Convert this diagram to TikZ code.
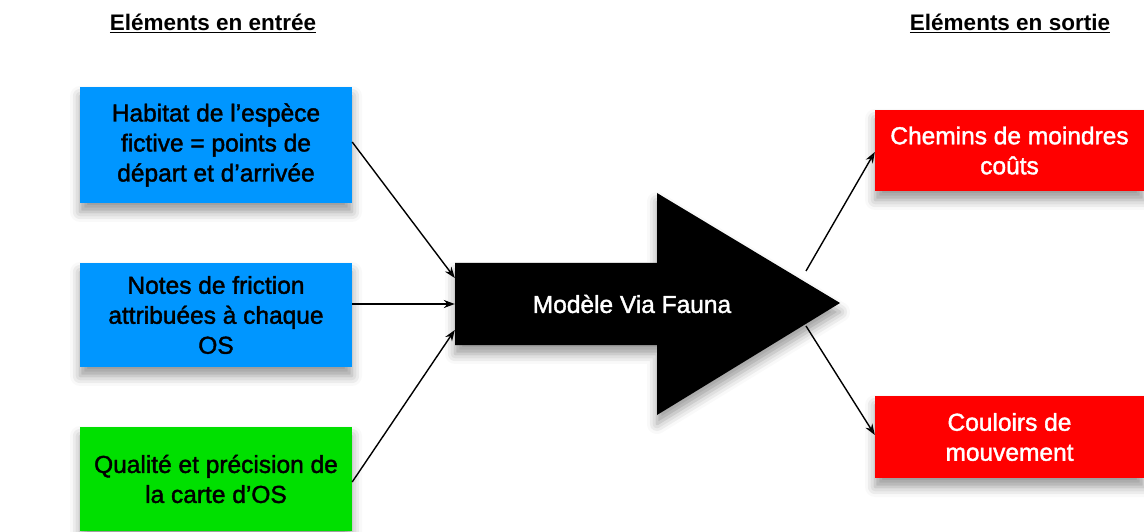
\documentclass[tikz,border=0pt]{standalone}
\usepackage{fontspec}
\setmainfont{Liberation Sans}
\newfontfamily\medfont[FakeBold=1.6]{Liberation Sans}
\usetikzlibrary{arrows.meta,shadows.blur}
\definecolor{boxblue}{RGB}{0,150,255}
\definecolor{boxgreen}{RGB}{0,224,0}
\definecolor{boxred}{RGB}{255,0,0}
\begin{document}
\begin{tikzpicture}[x=1pt,y=1pt,
  softshadow/.style={blur shadow={shadow xshift=0pt, shadow yshift=-9pt, shadow blur radius=10pt, shadow opacity=40}},
  box/.style={minimum width=272pt, inner sep=0pt, align=center, font=\medfont\fontsize{24.5}{30}\selectfont, softshadow},
  redbox/.style={box, minimum width=269pt, fill=boxred, text=white},
  heading/.style={font=\bfseries\fontsize{22.5}{27}\selectfont},
  conn/.style={line width=1.4pt, -{Stealth[length=11pt,width=8pt]}}]
\useasboundingbox (0,0) rectangle (1144,531);

% titles
\node[heading] (tin) at (213,508) {\underline{Eléments en entrée}};
\node[heading] (tout) at (1010,508) {\underline{Eléments en sortie}};

% input boxes
\node[box, fill=boxblue, minimum height=116pt] (in1) at (216,386) {Habitat de l’espèce\\fictive = points de\\départ et d’arrivée};
\node[box, fill=boxblue, minimum height=104pt] (in2) at (216,216) {Notes de friction\\attribuées à chaque\\OS};
\node[box, fill=boxgreen, minimum height=104pt] (in3) at (216,52) {Qualité et précision de\\la carte d’OS};

% output boxes
\node[redbox, minimum height=81pt] (out1) at (1009.5,380.5) {Chemins de moindres\\coûts};
\node[redbox, minimum height=82pt] (out2) at (1009.5,94) {Couloirs de\\mouvement};

% big arrow
\fill[black, softshadow] (455,268) -- (657,268) -- (657,338) -- (840,228) -- (657,116) -- (657,186) -- (455,186) -- cycle;
\node[minimum width=202pt, minimum height=82pt, inner sep=0pt] (body) at (556,227) {};
\node[text=white, font=\medfont\fontsize{24.5}{30}\selectfont, inner sep=0pt] (model) at (632,227) {Modèle Via Fauna};

\coordinate (o1) at ([shift={(250,33)}]body.center);
\coordinate (o2) at ([shift={(250,-22)}]body.center);

% connectors
\draw[conn] ([yshift=3pt]in1.east) -- ([yshift=26pt]body.west);
\draw[conn] ([yshift=11pt]in2.east) -- (body.west);
\draw[conn] ([yshift=-3pt]in3.east) -- ([yshift=-26pt]body.west);
\draw[conn] (o1) -- ([yshift=-1.5pt]out1.west);
\draw[conn] (o2) -- ([yshift=2pt]out2.west);
\end{tikzpicture}
\end{document}
